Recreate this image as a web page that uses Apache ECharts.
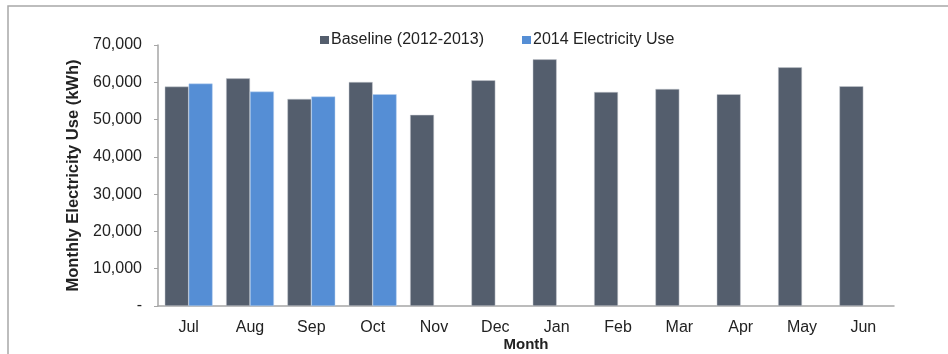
<!DOCTYPE html>
<html>
<head>
<meta charset="utf-8">
<script src="https://cdn.jsdelivr.net/npm/echarts@6/dist/echarts.min.js"></script>
<style>
html,body{margin:0;padding:0;background:#fff;overflow:hidden;}
#main{width:948px;height:354px;}
</style>
</head>
<body>
<div id="main"></div>
<script>
const months = ['Jul','Aug','Sep','Oct','Nov','Dec','Jan','Feb','Mar','Apr','May','Jun'];
const baseline = [58850, 61050, 55550, 60080, 51260, 60530, 66150, 57400, 58210, 56790, 64010, 58930];
const use2014 = [59650, 57500, 56180, 56790, null, null, null, null, null, null, null, null];
const yTicks = [0, 10000, 20000, 30000, 40000, 50000, 60000, 70000];

const chart = echarts.init(document.getElementById('main'));
const font = 'Liberation Sans, Arial, sans-serif';
chart.setOption({
  animation: false,
  graphic: [{
    type: 'rect',
    shape: {x: 8, y: 6, width: 1000, height: 400},
    style: {fill: 'none', stroke: '#a8a8a8', lineWidth: 1.5},
    silent: true
  }],
  legend: {
    left: 315, top: 27,
    itemWidth: 9, itemHeight: 8, itemGap: 38,
    icon: 'rect',
    itemStyle: {borderWidth: 0},
    textStyle: {fontFamily: font, fontSize: 16, color: '#222', padding: [0,0,0,-3]},
    data: ['Baseline (2012-2013)', '2014 Electricity Use']
  },
  grid: {left: 158, right: 54, top: 45, bottom: 48, outerBoundsMode: 'none', containLabel: false},
  xAxis: {
    type: 'category',
    data: months,
    axisLine: {lineStyle: {color: '#a6a6a6', width: 1.5}},
    axisTick: {show: false},
    axisLabel: {fontFamily: font, fontSize: 16, color: '#222', margin: 14},
    name: 'Month',
    nameLocation: 'middle',
    nameGap: 31,
    nameMoveOverlap: false,
    nameTextStyle: {fontFamily: font, fontSize: 15, fontWeight: 'bold', color: '#222'}
  },
  yAxis: {
    type: 'value',
    min: yTicks[0], max: yTicks[yTicks.length-1], interval: 10000,
    axisLine: {show: true, lineStyle: {color: '#a6a6a6', width: 1.5}},
    axisTick: {show: true, inside: false, length: 4, lineStyle: {color: '#a6a6a6'}},
    splitLine: {show: false},
    axisLabel: {
      fontFamily: font, fontSize: 16, color: '#222', margin: 16,
      formatter: v => v === 0 ? '-' : v.toLocaleString('en-US')
    },
    name: 'Monthly Electricity Use (kWh)',
    nameLocation: 'middle',
    nameGap: 74,
    nameTextStyle: {fontFamily: font, fontSize: 16.5, fontWeight: 'bold', color: '#222'}
  },
  series: [
    {
      name: 'Baseline (2012-2013)', type: 'bar', data: baseline,
      barGap: '0%', barCategoryGap: '22%',
      itemStyle: {color: '#545e6d', borderColor: '#c9ccd2', borderWidth: 0.5}
    },
    {
      name: '2014 Electricity Use', type: 'bar', data: use2014,
      itemStyle: {color: '#558ed5', borderColor: '#b9d0ee', borderWidth: 0.5}
    }
  ]
});
</script>
</body>
</html>
